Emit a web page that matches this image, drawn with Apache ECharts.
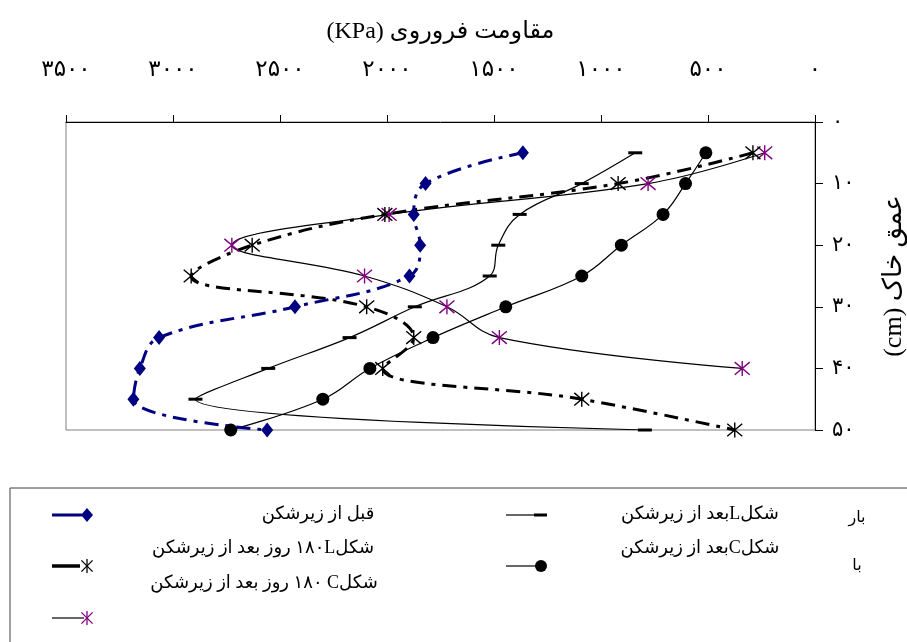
<!DOCTYPE html>
<html>
<head>
<meta charset="utf-8">
<script src="https://cdn.jsdelivr.net/npm/echarts@6/dist/echarts.min.js"></script>
<style>
html,body{margin:0;padding:0;background:#fff;}
#chart{width:907px;height:642px;}
</style>
</head>
<body>
<div id="chart"></div>
<script>
// ---- data ----
const depths = [5, 10, 15, 20, 25, 30, 35, 40, 45, 50];
const beforeSubsoil = [1365, 1820, 1875, 1845, 1895, 2430, 3065, 3155, 3185, 2560];
const afterL = [840, 1090, 1380, 1480, 1520, 1870, 2175, 2555, 2895, 795];
const afterC = [510, 605, 710, 905, 1090, 1445, 1785, 2080, 2300, 2730];
const l180 = [290, 920, 2010, 2630, 2915, 2095, 1875, 2020, 1090, 375];
const c180 = [235, 780, 1990, 2725, 2105, 1720, 1475, 340];
const xTickLabels = ['۰', '۵۰۰', '۱۰۰۰', '۱۵۰۰', '۲۰۰۰', '۲۵۰۰', '۳۰۰۰', '۳۵۰۰'];
const yTickLabels = ['۰', '۱۰', '۲۰', '۳۰', '۴۰', '۵۰'];
const seriesNames = [
  'قبل از زیرشکن',
  'شکلLبعد از زیرشکن',
  'شکلCبعد از زیرشکن',
  'شکلL\u200F۱۸۰ روز بعد از زیرشکن',
  'شکلC\u200F ۱۸۰ روز بعد از زیرشکن'
];
const xTitle = 'مقاومت فروروی (KPa)';
const yTitle = 'عمق خاک (cm)';

// ---- helpers ----
const RTL = s => '\u202B' + s + '\u202C';
const FF = '"Liberation Serif", "DejaVu Sans", serif';
const pair = (vals) => vals.map((v, i) => [v, depths[i]]);
const AST = 'path://M5,0L5,10M0.8,0.8L9.2,9.2M0.8,9.2L9.2,0.8';

const chart = echarts.init(document.getElementById('chart'), null, {renderer: 'canvas'});

function astLines(cx, cy, r, color) {
  const d = r * 0.8;
  return [
    {type: 'line', shape: {x1: cx, y1: cy - r, x2: cx, y2: cy + r}, style: {stroke: color, lineWidth: 1.3}},
    {type: 'line', shape: {x1: cx - d, y1: cy - d, x2: cx + d, y2: cy + d}, style: {stroke: color, lineWidth: 1.3}},
    {type: 'line', shape: {x1: cx - d, y1: cy + d, x2: cx + d, y2: cy - d}, style: {stroke: color, lineWidth: 1.3}}
  ];
}
function legText(t, x, y, size) {
  return {type: 'text', x: x, y: y, style: {text: RTL(t), fontSize: size || 18, fontFamily: FF, fill: '#000', align: 'center', verticalAlign: 'middle'}};
}

const graphic = [
  {type: 'rect', shape: {x: 10, y: 488, width: 1000, height: 300}, style: {fill: 'none', stroke: '#404040', lineWidth: 1}},
  // navy diamond icon
  {type: 'line', shape: {x1: 52, y1: 515, x2: 82, y2: 515}, style: {stroke: '#000080', lineWidth: 3}},
  {type: 'polygon', shape: {points: [[87, 508], [93, 515], [87, 522], [81, 515]]}, style: {fill: '#000080'}},
  // black asterisk icon
  {type: 'line', shape: {x1: 52, y1: 566, x2: 80, y2: 566}, style: {stroke: '#000', lineWidth: 3.5}},
  ...astLines(87, 566, 7, '#000'),
  // purple asterisk icon
  {type: 'line', shape: {x1: 52, y1: 618, x2: 84, y2: 618}, style: {stroke: '#000', lineWidth: 1.2}},
  ...astLines(87, 618, 7, '#800080'),
  // dash icon
  {type: 'line', shape: {x1: 506, y1: 515, x2: 536, y2: 515}, style: {stroke: '#000', lineWidth: 1.2}},
  {type: 'rect', shape: {x: 534, y: 513.5, width: 13, height: 3}, style: {fill: '#000'}},
  // circle icon
  {type: 'line', shape: {x1: 506, y1: 566, x2: 536, y2: 566}, style: {stroke: '#000', lineWidth: 1.2}},
  {type: 'circle', shape: {cx: 541, cy: 566, r: 6}, style: {fill: '#000'}},
  legText(seriesNames[0], 318, 514),
  legText(seriesNames[3], 263, 548),
  legText(seriesNames[4], 264, 583),
  legText(seriesNames[1], 700, 514),
  legText(seriesNames[2], 700, 548),
  legText('بار', 857, 518, 16),
  legText('با', 857, 566, 16)
];

const option = {
  animation: false,
  backgroundColor: '#fff',
  grid: {left: 66, right: 92, top: 122, bottom: 212, show: true, borderColor: '#808080', borderWidth: 1, backgroundColor: '#fff', containLabel: false, outerBoundsMode: 'none'},
  xAxis: {
    type: 'value', position: 'top', inverse: true, min: 0, max: 3500, interval: 500,
    axisLine: {show: true, onZero: false, lineStyle: {color: '#000', width: 1}},
    axisTick: {show: true, length: 7, lineStyle: {color: '#000'}},
    splitLine: {show: false},
    axisLabel: {margin: 41, fontSize: 23, color: '#000', fontFamily: FF,
      formatter: v => xTickLabels[Math.round(v / 500)]},
    name: RTL(xTitle), nameLocation: 'middle', nameGap: 78,
    nameTextStyle: {fontSize: 24, color: '#000', fontFamily: FF}
  },
  yAxis: {
    type: 'value', position: 'right', inverse: true, min: 0, max: 50, interval: 10,
    axisLine: {show: true, onZero: false, lineStyle: {color: '#000', width: 1}},
    axisTick: {show: true, length: 8, lineStyle: {color: '#000'}},
    splitLine: {show: false},
    axisLabel: {margin: 17, fontSize: 21, color: '#000', fontFamily: FF,
      formatter: v => yTickLabels[Math.round(v / 10)]},
    name: RTL(yTitle), nameLocation: 'middle', nameRotate: 90, nameGap: 66,
    nameTextStyle: {fontSize: 26, color: '#000', fontFamily: FF}
  },
  series: [
    {name: seriesNames[1], type: 'line', data: pair(afterL), smooth: 0.4,
      symbol: 'rect', symbolSize: [14, 3],
      itemStyle: {color: '#000'}, lineStyle: {color: '#000', width: 1.2}},
    {name: seriesNames[2], type: 'line', data: pair(afterC), smooth: 0.4,
      symbol: 'circle', symbolSize: 13,
      itemStyle: {color: '#000'}, lineStyle: {color: '#000', width: 1.2}},
    {name: seriesNames[4], type: 'line', data: pair(c180), smooth: 0.4,
      symbol: AST, symbolSize: 15,
      itemStyle: {color: 'rgba(0,0,0,0)', borderColor: '#800080', borderWidth: 1.4},
      lineStyle: {color: '#000', width: 1.2}},
    {name: seriesNames[3], type: 'line', data: pair(l180), smooth: 0.4,
      symbol: AST, symbolSize: 15,
      itemStyle: {color: 'rgba(0,0,0,0)', borderColor: '#000', borderWidth: 1.4},
      lineStyle: {color: '#000', width: 3, type: [14, 7, 4, 7]}},
    {name: seriesNames[0], type: 'line', data: pair(beforeSubsoil), smooth: 0.4,
      symbol: 'diamond', symbolSize: [12, 15],
      itemStyle: {color: '#000080'}, lineStyle: {color: '#000080', width: 3, type: [14, 7, 4, 7]}}
  ],
  graphic: graphic
};
chart.setOption(option);
</script>
</body>
</html>
